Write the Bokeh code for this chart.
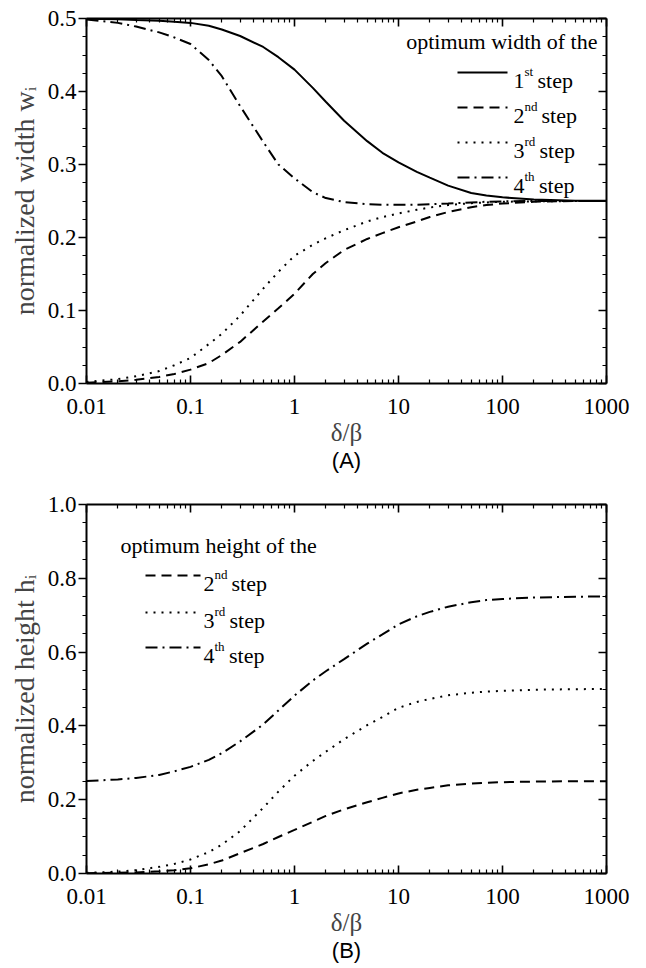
from bokeh.plotting import figure
from bokeh.models import FixedTicker, LinearAxis, LogAxis, Range1d, Title, PrintfTickFormatter
from bokeh.layouts import column
from bokeh.embed import file_html
from bokeh.resources import INLINE
from bokeh.core.properties import value

# ---------------- data ----------------
ratio = [0.01, 0.02, 0.03, 0.05, 0.07, 0.1, 0.15, 0.2, 0.3, 0.5, 0.7, 1, 1.5, 2, 3,
         5, 7, 10, 15, 20, 30, 50, 70, 100, 200, 500, 1000]

width_1st = [0.4995, 0.499, 0.498, 0.497, 0.4955, 0.494, 0.490, 0.485, 0.476, 0.461, 0.447,
             0.430, 0.405, 0.386, 0.360, 0.332, 0.316, 0.303, 0.290, 0.282, 0.271, 0.261,
             0.2575, 0.255, 0.252, 0.2505, 0.2502]
width_2nd = [0.001, 0.003, 0.005, 0.009, 0.013, 0.019, 0.028, 0.039, 0.057, 0.085, 0.103,
             0.123, 0.150, 0.165, 0.183, 0.198, 0.206, 0.214, 0.222, 0.228, 0.235, 0.2415,
             0.2445, 0.2465, 0.249, 0.250, 0.250]
width_3rd = [0.002, 0.006, 0.010, 0.017, 0.025, 0.035, 0.054, 0.068, 0.093, 0.130, 0.153,
             0.175, 0.190, 0.199, 0.210, 0.222, 0.228, 0.233, 0.238, 0.241, 0.2445, 0.247,
             0.248, 0.249, 0.2495, 0.250, 0.250]
width_4th = [0.4985, 0.494, 0.489, 0.481, 0.474, 0.465, 0.443, 0.421, 0.380, 0.331, 0.300,
             0.281, 0.262, 0.254, 0.2485, 0.2455, 0.245, 0.2448, 0.245, 0.2455, 0.2465, 0.248,
             0.249, 0.2495, 0.250, 0.250, 0.250]

height_2nd = [0.001, 0.002, 0.003, 0.006, 0.009, 0.014, 0.025, 0.035, 0.055, 0.080, 0.099,
              0.118, 0.140, 0.156, 0.174, 0.193, 0.205, 0.217, 0.227, 0.232, 0.239, 0.2435,
              0.246, 0.2475, 0.249, 0.250, 0.250]
height_3rd = [0.002, 0.005, 0.009, 0.018, 0.026, 0.038, 0.058, 0.078, 0.115, 0.178, 0.222,
              0.265, 0.305, 0.330, 0.364, 0.402, 0.424, 0.449, 0.465, 0.473, 0.483, 0.490,
              0.493, 0.495, 0.498, 0.4995, 0.500]
height_4th = [0.2505, 0.255, 0.259, 0.267, 0.277, 0.289, 0.308, 0.326, 0.358, 0.404, 0.442,
              0.482, 0.523, 0.548, 0.581, 0.623, 0.648, 0.675, 0.697, 0.709, 0.723, 0.735,
              0.741, 0.744, 0.748, 0.750, 0.751]

x_ticks = [0.01, 0.1, 1, 10, 100, 1000]
x_tick_labels = ["0.01", "0.1", "1", "10", "100", "1000"]
yA_ticks = [0.0, 0.1, 0.2, 0.3, 0.4, 0.5]
yB_ticks = [0.0, 0.2, 0.4, 0.6, 0.8, 1.0]

ordinals = ["1", "2", "3", "4"]
suffixes = ["st", "nd", "rd", "th"]

# ---------------- styling ----------------
SERIF = "Liberation Serif"
SANS = "Liberation Sans"
DASH = {"solid": "solid", "dashed": "10 6", "dotted": "2 6", "dashdot": "12 5 2 5"}
LW = 2.0
TICK_FS = "23px"

W = 630
FW = 520  # expected frame width


def x_minor():
    return [m * 10 ** e for e in range(-2, 3) for m in range(2, 10)]


def style_axis(ax, outward):
    ax.axis_line_width = 2
    ax.axis_line_color = "black"
    ax.major_tick_line_width = 1.6
    ax.minor_tick_line_width = 1.2
    ax.major_tick_line_color = "black"
    ax.minor_tick_line_color = "black"
    if outward:
        ax.major_tick_out, ax.major_tick_in = 8, 0
        ax.minor_tick_out, ax.minor_tick_in = 4, 0
    else:
        ax.major_tick_out, ax.major_tick_in = 0, 8
        ax.minor_tick_out, ax.minor_tick_in = 0, 4
    ax.major_label_text_font = SERIF
    ax.major_label_text_font_size = TICK_FS
    ax.major_label_text_color = "black"


def make_panel(height, top, bottom, ymax, yticks, yminor, ylabel, caption):
    p = figure(width=W, height=height, x_axis_type="log",
               x_range=Range1d(0.01, 1000), y_range=Range1d(0, ymax),
               output_backend="svg", toolbar_location=None,
               min_border_left=86, min_border_right=24,
               min_border_top=top, min_border_bottom=bottom)
    p.outline_line_color = None
    p.xgrid.visible = False
    p.ygrid.visible = False
    p.background_fill_color = "white"
    p.border_fill_color = "white"

    xt = FixedTicker(ticks=x_ticks, minor_ticks=x_minor())
    yt = FixedTicker(ticks=yticks, minor_ticks=yminor)

    xa = p.xaxis[0]
    xa.ticker = xt
    xa.major_label_overrides = dict(zip(x_ticks, x_tick_labels))
    style_axis(xa, outward=False)
    xa.major_label_standoff = 15
    xa.axis_label = "δ/β"
    xa.axis_label_text_font = SERIF
    xa.axis_label_text_font_size = "25px"
    xa.axis_label_text_font_style = "normal"
    xa.axis_label_standoff = 2

    ya = p.yaxis[0]
    ya.ticker = yt
    ya.formatter = PrintfTickFormatter(format="%.1f")
    style_axis(ya, outward=True)
    ya.major_label_standoff = 2
    ya.axis_label = ylabel
    ya.axis_label_text_font = SERIF
    ya.axis_label_text_font_size = "28px"
    ya.axis_label_text_font_style = "normal"
    ya.axis_label_standoff = 5

    top_ax = LogAxis(ticker=FixedTicker(ticks=x_ticks, minor_ticks=x_minor()),
                     major_label_overrides={t: "" for t in x_ticks})
    style_axis(top_ax, outward=False)
    p.add_layout(top_ax, "above")

    right_ax = LinearAxis(ticker=FixedTicker(ticks=yticks, minor_ticks=yminor),
                          major_label_overrides={t: "" for t in yticks})
    style_axis(right_ax, outward=False)
    p.add_layout(right_ax, "right")

    p.add_layout(Title(text=caption, align="center", text_font=SANS,
                       text_font_size="22px", text_font_style="normal",
                       text_color="black", standoff=-5), "below")
    return p


def fx(px):
    return 10 ** (-2 + 5 * px / FW)


def legend(p, fy, header, header_x, header_y, header_align, entries, line_x0, line_x1, num_x, rows):
    p.text(x=[fx(header_x)], y=[fy(header_y)], text=[header], text_font=value(SERIF),
           text_font_size="22px", text_align=header_align, text_baseline="alphabetic",
           text_color="black")
    sup_w = {"st": 9, "nd": 13, "rd": 11, "th": 10.5}
    for (num, suf, dash), yc in zip(entries, rows):
        p.line(x=[fx(line_x0), fx(line_x1)], y=[fy(yc), fy(yc)], line_color="black",
               line_width=LW, line_dash=DASH[dash])
        p.text(x=[fx(num_x)], y=[fy(yc + 8)], text=[num], text_font=value(SERIF),
               text_font_size="22px", text_align="left", text_baseline="alphabetic",
               text_color="black")
        p.text(x=[fx(num_x + 11)], y=[fy(yc - 1)], text=[suf], text_font=value(SERIF),
               text_font_size="13px", text_align="left", text_baseline="alphabetic",
               text_color="black")
        p.text(x=[fx(num_x + 11 + sup_w[suf] + 4)], y=[fy(yc + 8)], text=["step"],
               text_font=value(SERIF), text_font_size="22px", text_align="left",
               text_baseline="alphabetic", text_color="black")


# ---------------- panel A ----------------
FHA = 365
pA = make_panel(488, 18, 105, 0.5, yA_ticks,
                [v / 1000 for v in range(25, 500, 25) if v % 100 != 0],
                "normalized width wᵢ", "(A)")
pA.line(ratio, width_1st, line_color="black", line_width=LW, line_dash=DASH["solid"])
pA.line(ratio, width_2nd, line_color="black", line_width=LW, line_dash=DASH["dashed"])
pA.line(ratio, width_3rd, line_color="black", line_width=LW, line_dash=DASH["dotted"])
pA.line(ratio, width_4th, line_color="black", line_width=LW, line_dash=DASH["dashdot"])


def fyA(py):
    return 0.5 * (1 - py / FHA)


legend(pA, fyA, "optimum width of the", 511, 23, "right",
       list(zip(ordinals, suffixes, ["solid", "dashed", "dotted", "dashdot"])),
       371, 421, 427, [54, 89, 124, 159])

# ---------------- panel B ----------------
FHB = 369
pB = make_panel(476, 16, 91, 1.0, yB_ticks,
                [v / 100 for v in range(5, 100, 5) if v % 20 != 0],
                "normalized height hᵢ", "(B)")
pB.line(ratio, height_2nd, line_color="black", line_width=LW, line_dash=DASH["dashed"])
pB.line(ratio, height_3rd, line_color="black", line_width=LW, line_dash=DASH["dotted"])
pB.line(ratio, height_4th, line_color="black", line_width=LW, line_dash=DASH["dashdot"])


def fyB(py):
    return 1.0 * (1 - py / FHB)


legend(pB, fyB, "optimum height of the", 34, 41, "left",
       list(zip(ordinals[1:], suffixes[1:], ["dashed", "dotted", "dashdot"])),
       59, 114, 117, [71, 108, 143])

layout = column(pA, pB)
open("out.html", "w").write(file_html(layout, INLINE))
